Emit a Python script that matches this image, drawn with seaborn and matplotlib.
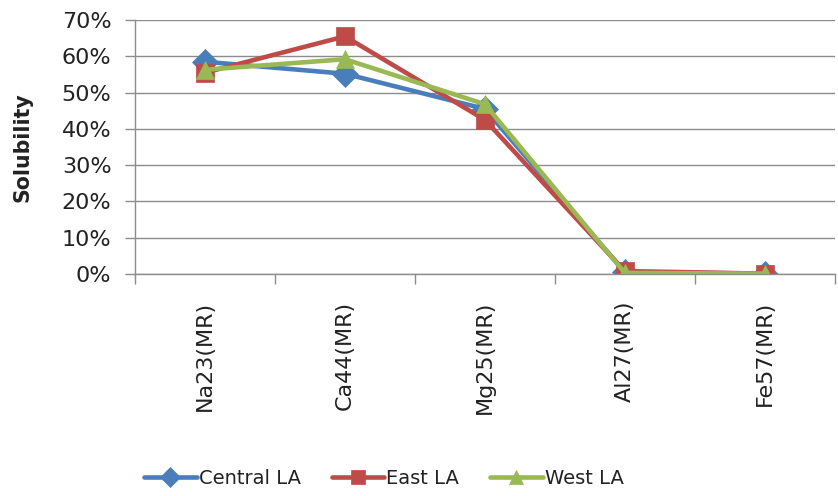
import matplotlib
matplotlib.use("Agg")
import matplotlib.pyplot as plt
from matplotlib.ticker import PercentFormatter, FixedLocator
import seaborn as sns
import pandas as pd

# Solubility fraction per element (mass-resolution measurement) and region
elements = ["Na23(MR)", "Ca44(MR)", "Mg25(MR)", "Al27(MR)", "Fe57(MR)"]
central_la = [0.585, 0.552, 0.455, 0.005, 0.001]
east_la = [0.555, 0.655, 0.425, 0.008, 0.001]
west_la = [0.563, 0.592, 0.468, 0.003, 0.001]

series_names = ["Central LA", "East LA", "West LA"]
series_values = [central_la, east_la, west_la]
palette = {"Central LA": "#4A7EBB", "East LA": "#BE4B48", "West LA": "#98B954"}
marker_map = {"Central LA": "D", "East LA": "s", "West LA": "^"}

rows = []
for name, vals in zip(series_names, series_values):
    for el, v in zip(elements, vals):
        rows.append({"Element": el, "Solubility": v, "Site": name})
df = pd.DataFrame(rows)

sns.set_theme(style="white")
plt.rcParams["font.family"] = ["DejaVu Sans"]

fig = plt.figure(figsize=(8.38, 4.96), dpi=100)
ax = fig.add_axes([0.1611, 0.4476, 0.835, 0.512])

sns.lineplot(
    data=df, x="Element", y="Solubility", hue="Site", style="Site",
    hue_order=series_names, style_order=series_names,
    palette=palette, markers=marker_map, dashes=False, sort=False,
    linewidth=3.3, markersize=13, ax=ax, legend=True,
)
for line in ax.get_lines():
    line.set_markeredgecolor(line.get_color())
    line.set_markeredgewidth(0.5)

ax.set_xlim(-0.5, len(elements) - 0.5)
ax.set_ylim(0, 0.70)
ax.yaxis.set_major_locator(FixedLocator([i / 10 for i in range(8)]))
ax.yaxis.set_major_formatter(PercentFormatter(1.0, decimals=0))
ax.grid(axis="y", color="#8c8c8c", linewidth=1.0)
ax.set_axisbelow(True)

for side in ("top", "right"):
    ax.spines[side].set_visible(False)
for side in ("left", "bottom"):
    ax.spines[side].set_color("#8c8c8c")
    ax.spines[side].set_linewidth(1.0)

# category boundaries carry the tick marks, labels sit at the centres
ax.set_xticks([i - 0.5 for i in range(len(elements) + 1)], minor=False)
ax.set_xticklabels([])
ax.set_xticks(range(len(elements)), minor=True)
ax.set_xticklabels(elements, minor=True, rotation=90, fontsize=16, color="#222222")
ax.tick_params(axis="x", which="major", direction="out", length=7, width=1, color="#8c8c8c", bottom=True)
ax.tick_params(axis="x", which="minor", length=0, pad=19, bottom=True)
ax.tick_params(axis="y", direction="out", length=7, width=1, color="#8c8c8c", left=True,
               labelsize=16, labelcolor="#222222", pad=10)

ax.set_xlabel("")
ax.set_ylabel("Solubility", fontsize=14.8, fontweight="bold", color="#222222")
ax.yaxis.set_label_coords(-0.147, 0.5)

# move the legend below the plot, centred under the category labels
handles, labels = ax.get_legend_handles_labels()
ax.get_legend().remove()
for h in handles:
    h.set_markeredgecolor(h.get_color())
    h.set_markeredgewidth(0.5)
fig.legend(handles, labels, loc="center", bbox_to_anchor=(0.458, 0.036), ncol=3,
           frameon=False, fontsize=14, handlelength=2.7, handletextpad=0.1,
           columnspacing=1.6, markerscale=0.75, borderpad=0, labelcolor="#222222")

fig.savefig("out.png", dpi=100)
